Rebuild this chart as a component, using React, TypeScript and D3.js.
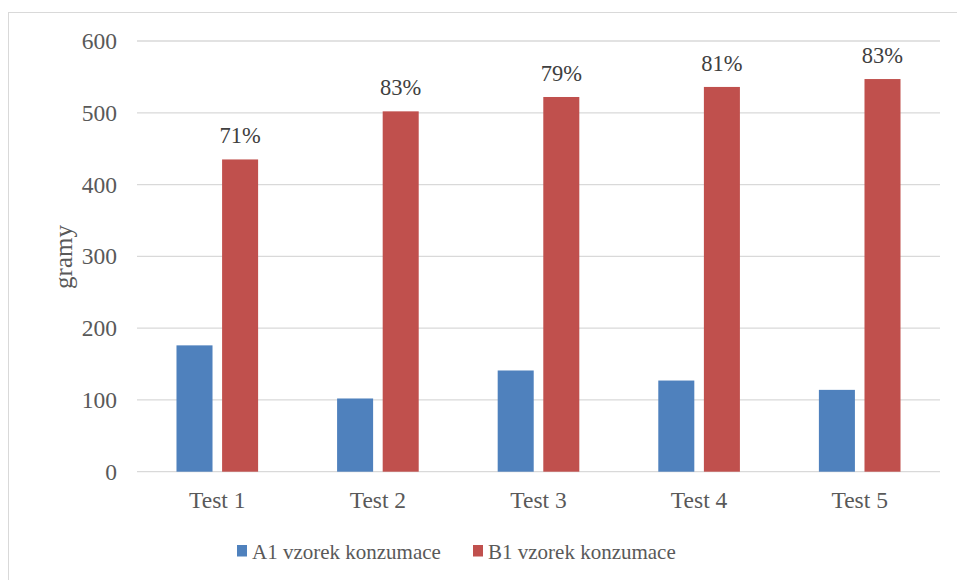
import React from "react";
import * as d3 from "d3";

// Consumption per test, grams
const categories = ["Test 1", "Test 2", "Test 3", "Test 4", "Test 5"];
const seriesNames = ["A1 vzorek konzumace", "B1 vzorek konzumace"];
const seriesA = [176, 102, 141, 127, 114];
const seriesB = [435, 502, 522, 536, 547];
const labelsB = ["71%", "83%", "79%", "81%", "83%"];
const yTicks = [0, 100, 200, 300, 400, 500, 600];
const colors = ["#4F81BD", "#C0504D"];

const W = 957;
const H = 580;
const plot = { left: 137, right: 940, top: 41, bottom: 471.7 };
const FONT = "Liberation Serif, Times New Roman, serif";
const TEXT = "#595959";
const GRID = "#D9D9D9";

const txt = (size: number) => ({ fontFamily: FONT, fontSize: size + "px" });

export default function App() {
  const x0 = d3
    .scaleBand<string>()
    .domain(categories)
    .range([plot.left, plot.right])
    .paddingInner(0)
    .paddingOuter(0);
  const x1 = d3
    .scaleBand<string>()
    .domain(seriesNames)
    .range([0, x0.bandwidth()])
    .paddingInner(0.21)
    .paddingOuter(0.866);
  const y = d3.scaleLinear().domain([0, 600]).range([plot.bottom, plot.top]);

  const values = [seriesA, seriesB];

  return (
    <svg
      width={W}
      height={H}
      style={{ position: "absolute", left: 0, top: 0, display: "block", background: "#fff" }}
    >
      <rect x={8.5} y={12.5} width={W + 20} height={H + 20} fill="#fff" stroke={GRID} strokeWidth={1} />

      {/* gridlines */}
      {yTicks.map((t) => (
        <line
          key={t}
          x1={plot.left}
          x2={plot.right}
          y1={y(t)}
          y2={y(t)}
          stroke={GRID}
          strokeWidth={1.3}
        />
      ))}

      {/* y tick labels */}
      {yTicks.map((t) => (
        <text key={"t" + t} x={117} y={y(t) + 8} textAnchor="end" style={txt(23.5)} fill={TEXT}>
          {t}
        </text>
      ))}

      {/* y axis title */}
      <text
        transform={`translate(${72}, ${257}) rotate(-90)`}
        textAnchor="middle"
        style={txt(25)}
        fill={TEXT}
      >
        gramy
      </text>

      {/* bars */}
      {categories.map((c, i) => (
        <g key={c} transform={`translate(${x0(c)}, 0)`}>
          {seriesNames.map((s, j) => {
            const v = values[j][i];
            return (
              <rect
                key={s}
                x={x1(s)}
                y={y(v)}
                width={x1.bandwidth()}
                height={y(0) - y(v)}
                fill={colors[j]}
              />
            );
          })}
          <text
            x={(x1(seriesNames[1]) as number) + x1.bandwidth() / 2}
            y={y(seriesB[i]) - 16}
            textAnchor="middle"
            style={txt(22.5)}
            fill="#404040"
          >
            {labelsB[i]}
          </text>
        </g>
      ))}

      {/* category labels */}
      {categories.map((c) => (
        <text
          key={"c" + c}
          x={(x0(c) as number) + x0.bandwidth() / 2}
          y={508}
          textAnchor="middle"
          style={txt(23.5)}
          fill={TEXT}
        >
          {c}
        </text>
      ))}

      {/* legend */}
      {seriesNames.map((s, j) => {
        const lx = j === 0 ? 237 : 473;
        return (
          <g key={"l" + s}>
            <rect x={lx} y={545} width={10} height={11.5} fill={colors[j]} />
            <text x={lx + 15} y={559} style={txt(21)} fill={TEXT}>
              {s}
            </text>
          </g>
        );
      })}
    </svg>
  );
}
